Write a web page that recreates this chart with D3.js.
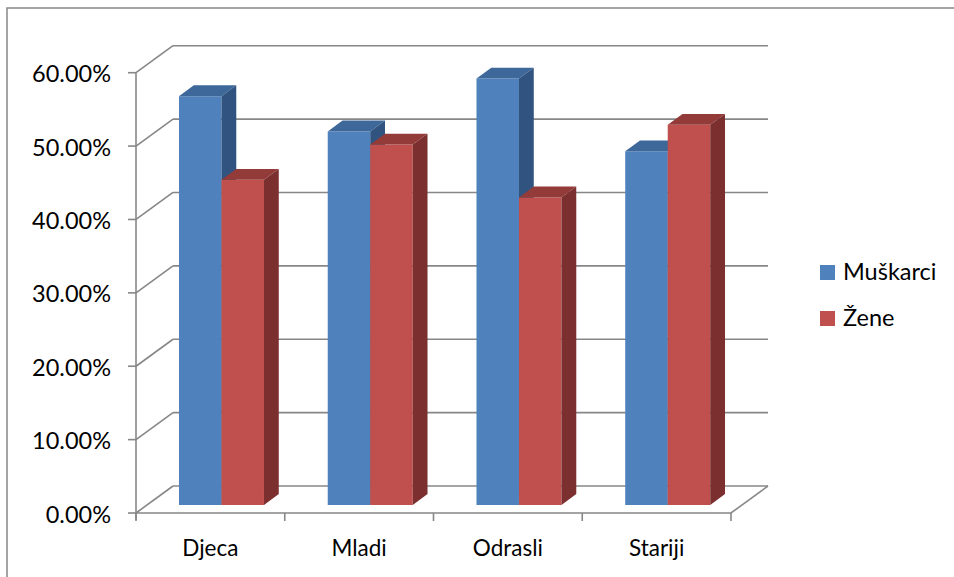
<!DOCTYPE html>
<html><head><meta charset="utf-8">
<script src="https://cdn.jsdelivr.net/npm/d3@7"></script>
<style>html,body{margin:0;padding:0;background:#fff;}svg{display:block;}</style>
</head><body>
<svg id="chart" width="954" height="577"></svg>
<script>
const categories = ["Djeca", "Mladi", "Odrasli", "Stariji"];
const seriesNames = ["Muškarci", "Žene"];
const muskarci = [0.557, 0.509, 0.581, 0.482];
const zene = [0.443, 0.491, 0.419, 0.518];
const yTicks = [0, 0.1, 0.2, 0.3, 0.4, 0.5, 0.6];

const colors = {
  front: ["#4F81BD", "#C0504D"],
  top: ["#3D6899", "#933B39"],
  side: ["#30547F", "#7B2F2E"]
};
const fontFam = "Lato, 'Open Sans', sans-serif";
const svg = d3.select("#chart");

// chart border
svg.append("rect").attr("x", 7).attr("y", 8).attr("width", 960).attr("height", 600)
  .attr("fill", "none").attr("stroke", "#888").attr("stroke-width", 1.5);

const y = d3.scaleLinear().domain([0, 0.6]).range([513, 72.7]);
const x = d3.scaleBand().domain(categories).range([136, 731]).paddingInner(0).paddingOuter(0);
const depth = {dx: 37, dy: -27};
const off = f => [depth.dx * f, depth.dy * f];
const gridColor = "#878787";

const g = svg.append("g");
// back wall gridlines + left wall diagonals
yTicks.forEach(t => {
  const [bx, by] = off(1);
  g.append("line").attr("x1", x.range()[0] + bx).attr("x2", x.range()[1] + bx)
    .attr("y1", y(t) + by).attr("y2", y(t) + by)
    .attr("stroke", gridColor).attr("stroke-width", 1.6);
  g.append("line").attr("x1", x.range()[0]).attr("y1", y(t))
    .attr("x2", x.range()[0] + bx).attr("y2", y(t) + by)
    .attr("stroke", gridColor).attr("stroke-width", 1.6);
});
// floor
{
  const [bx, by] = off(1);
  const x0 = x.range()[0], x1 = x.range()[1];
  g.append("path").attr("d", `M${x0},${y(0)}L${x1},${y(0)}L${x1 + bx},${y(0) + by}`)
    .attr("fill", "none").attr("stroke", gridColor).attr("stroke-width", 1.6);
}
// y axis line
g.append("line").attr("x1", 136).attr("x2", 136).attr("y1", y(0) + 7).attr("y2", y(0.6))
  .attr("stroke", gridColor).attr("stroke-width", 1.6);
// y ticks and labels
yTicks.forEach(t => {
  g.append("line").attr("x1", 128).attr("x2", 136).attr("y1", y(t)).attr("y2", y(t))
    .attr("stroke", gridColor).attr("stroke-width", 1.6);
  g.append("text").attr("x", 111).attr("y", y(t) + 9.5).attr("text-anchor", "end")
    .attr("font-family", fontFam).attr("font-size", 23.5).attr("fill", "#000")
    .text((t * 100).toFixed(2) + "%");
});
// category ticks
const catEdges = categories.map(c => x(c)).concat([x.range()[1]]);
catEdges.forEach(e => {
  g.append("line").attr("x1", e).attr("x2", e).attr("y1", y(0)).attr("y2", y(0) + 8)
    .attr("stroke", gridColor).attr("stroke-width", 1.6);
});
categories.forEach(c => {
  g.append("text").attr("x", x(c) + x.bandwidth() / 2).attr("y", 556).attr("text-anchor", "middle")
    .attr("font-family", fontFam).attr("font-size", 22.5).attr("fill", "#000").text(c);
});

// bars
const inner = d3.scaleBand().domain([0, 1]).range([0, x.bandwidth()]).paddingInner(0).paddingOuter(0.75);
const f0 = 0.3, f1 = 0.7;
const series = [muskarci, zene];
categories.forEach((c, i) => {
  series.forEach((vals, s) => {
    const v = vals[i];
    const [ox, oy] = off(f0);
    const [dx, dy] = [off(f1)[0] - ox, off(f1)[1] - oy];
    const xl = x(c) + inner(s) + ox, xr = xl + inner.bandwidth();
    const yt = y(v) + oy, yb = y(0) + oy;
    const bg = g.append("g");
    bg.append("path").attr("d", `M${xl},${yt}L${xr},${yt}L${xr},${yb}L${xl},${yb}Z`).attr("fill", colors.front[s]);
    bg.append("path").attr("d", `M${xl},${yt}L${xl + dx},${yt + dy}L${xr + dx},${yt + dy}L${xr},${yt}Z`).attr("fill", colors.top[s]);
    bg.append("path").attr("d", `M${xr},${yt}L${xr + dx},${yt + dy}L${xr + dx},${yb + dy}L${xr},${yb}Z`).attr("fill", colors.side[s]);
  });
});

// legend
const leg = svg.append("g");
seriesNames.forEach((n, i) => {
  const ly = 265 + i * 46;
  leg.append("rect").attr("x", 820).attr("y", ly).attr("width", 15).attr("height", 15).attr("fill", colors.front[i]);
  leg.append("text").attr("x", 843).attr("y", ly + 14.5).attr("font-family", fontFam).attr("font-size", 23.5)
    .attr("fill", "#000").text(n);
});
</script>
</body></html>
